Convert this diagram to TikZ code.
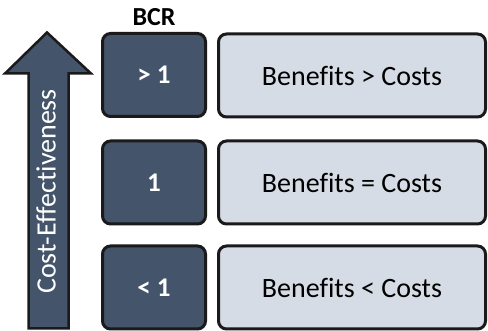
\documentclass[tikz,border=0pt]{standalone}
\usepackage{fontspec}
\setmainfont{Carlito}[Ligatures=NoCommon]
\definecolor{darkfill}{HTML}{44546A}
\definecolor{lightfill}{HTML}{D6DCE5}
\definecolor{edge}{HTML}{1A1A1A}
\begin{document}
\begin{tikzpicture}[x=1pt,y=-1pt,
  darkbox/.style={draw=edge,line width=3pt,fill=darkfill,rounded corners=8pt,text=white,
    font=\fontsize{27}{30}\selectfont\bfseries,minimum width=103pt,minimum height=83pt,inner sep=0pt},
  lightbox/.style={draw=edge,line width=3pt,fill=lightfill,rounded corners=8pt,text=black,
    font=\fontsize{28}{32}\selectfont,minimum width=267pt,minimum height=83pt,inner sep=0pt}]
\useasboundingbox (0,0) rectangle (488,331);
% arrow
\draw[draw=edge,line width=2.5pt,fill=darkfill,line join=miter]
  (47,32.5) -- (91,73.5) -- (68.5,73.5) -- (68.5,328.5) -- (28.5,328.5) -- (28.5,73.5) -- (5,73.5) -- cycle;
\node[rotate=90,text=white,font=\fontsize{28}{32}\selectfont,inner sep=0pt] (axis) at (46,191.5) {Cost-Effectiveness};
\node[font=\fontsize{26}{30}\selectfont\bfseries,inner sep=0pt] (bcr) at (154,17) {BCR};
\node[darkbox] (d1) at (154,75) {> 1};
\node[darkbox] (d2) at (154,182.5) {1};
\node[darkbox] (d3) at (154,287.5) {< 1};
\node[lightbox] (l1) at (352,75.5) {Benefits > Costs};
\node[lightbox] (l2) at (352,182.5) {Benefits = Costs};
\node[lightbox] (l3) at (352,287.5) {Benefits < Costs};
\end{tikzpicture}
\end{document}
